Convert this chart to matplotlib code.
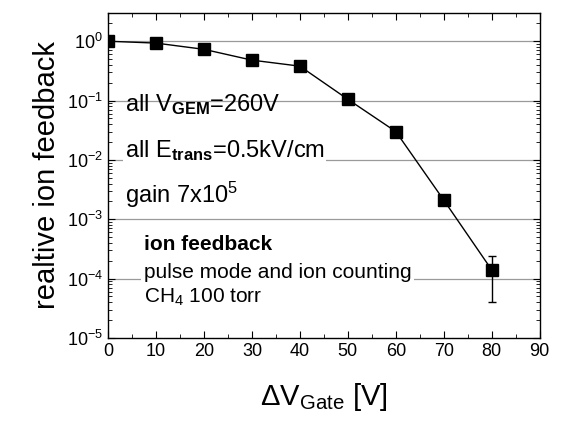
import numpy as np
import matplotlib
matplotlib.use('Agg')
import matplotlib.pyplot as plt
from matplotlib.ticker import LogLocator, MultipleLocator, NullFormatter

plt.rcParams['font.family'] = ['Liberation Sans', 'DejaVu Sans']
plt.rcParams['mathtext.fontset'] = 'custom'
plt.rcParams['mathtext.rm'] = 'Liberation Sans'
plt.rcParams['mathtext.it'] = 'Liberation Sans'
plt.rcParams['mathtext.bf'] = 'Liberation Sans:bold'

dv_gate = [0, 10, 20, 30, 40, 50, 60, 70, 80]
feedback = [1.0, 0.93, 0.73, 0.48, 0.38, 0.105, 0.030, 0.0021, 0.00014]
err_low = [0, 0, 0, 0, 0, 0, 0, 0, 0.00014 - 0.000041]
err_high = [0, 0, 0, 0, 0, 0, 0, 0, 0.00024 - 0.00014]
x_ticks = [0, 10, 20, 30, 40, 50, 60, 70, 80, 90]
y_decades = [1e0, 1e-1, 1e-2, 1e-3, 1e-4, 1e-5]

fig = plt.figure(figsize=(5.64, 4.3), dpi=100)
ax = fig.add_axes([0.1915, 0.214, 0.7655, 0.756])

for yv in y_decades[:-1]:
    ax.axhline(yv, color='#9a9a9a', lw=0.9, zorder=0)

ax.errorbar(dv_gate, feedback, yerr=[err_low, err_high], fmt='-s', color='black',
            lw=1.0, ms=8.5, elinewidth=1.0, capsize=3, zorder=3)

ax.set_yscale('log')
ax.set_xlim(0, 90)
ax.set_ylim(1e-5, 3)
ax.set_xticks(x_ticks)
ax.xaxis.set_minor_locator(MultipleLocator(5))
ax.set_yticks(y_decades)
ax.yaxis.set_minor_locator(LogLocator(base=10, subs=np.arange(2, 10)))
ax.yaxis.set_minor_formatter(NullFormatter())
ax.tick_params(which='both', direction='in', top=True, right=True, labelsize=13)
ax.tick_params(which='major', length=5, width=0.8)
ax.tick_params(which='minor', length=3, width=0.6)
for s in ax.spines.values():
    s.set_linewidth(1.0)

ax.set_xlabel(r'$\Delta$V$_{\mathrm{Gate}}$ [V]', fontsize=21, labelpad=15)
ax.set_ylabel('realtive ion feedback', fontsize=21, labelpad=4)

ax.text(3.5, 0.085, r'all V$_{\mathbf{GEM}}$=260V', fontsize=17, va='center', zorder=2)
ax.text(3.5, 0.0145, r'all E$_{\mathbf{trans}}$=0.5kV/cm', fontsize=17, va='center', zorder=2,
        bbox=dict(facecolor='white', edgecolor='none', pad=1))
ax.text(3.5, 0.0026, r'gain 7x10$^{5}$', fontsize=17, va='center', zorder=2)
ax.text(7.5, 0.00037, 'ion feedback', fontsize=15, fontweight='bold', va='center', zorder=2)
ax.text(7.5, 0.000076, 'pulse mode and ion counting\nCH$_{4}$ 100 torr', fontsize=15,
        va='center', linespacing=1.3, zorder=2,
        bbox=dict(facecolor='white', edgecolor='none', pad=2))

fig.savefig('out.png', dpi=100)
